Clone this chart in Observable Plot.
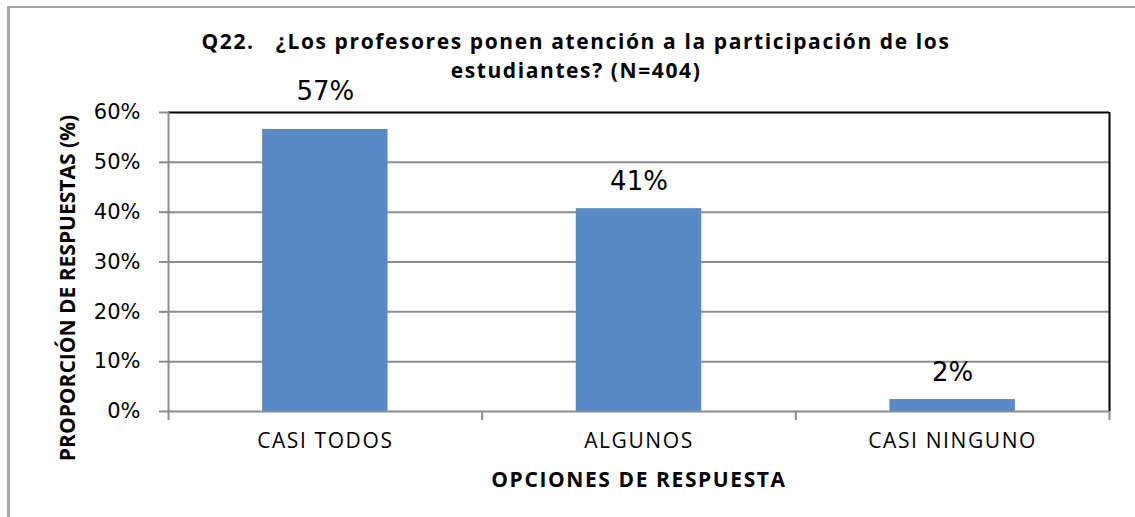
<!DOCTYPE html>
<html>
<head>
<meta charset="utf-8">
<script src="https://cdn.jsdelivr.net/npm/d3@7"></script>
<script src="https://cdn.jsdelivr.net/npm/@observablehq/plot@0.6"></script>
<style>
  html, body { margin: 0; padding: 0; background: #fff; }
  #wrap { position: relative; width: 1135px; height: 517px; overflow: hidden; }
  #border { position: absolute; left: 7px; top: 6px; right: -10px; bottom: -10px;
            border-left: 3px solid #a6a6a6; border-top: 2px solid #a6a6a6; pointer-events: none; }
  #chart { position: absolute; left: 0; top: 0; }
  #chart g[font-family*="Noto Sans"] { letter-spacing: 1.6px; }
</style>
</head>
<body>
<div id="wrap"><div id="chart"></div><div id="border"></div></div>
<script>
const categories = ["CASI TODOS", "ALGUNOS", "CASI NINGUNO"];
const values = [0.566, 0.407, 0.024];
const valueLabels = ["57%", "41%", "2%"];
const yTicks = [0, 0.1, 0.2, 0.3, 0.4, 0.5, 0.6];
const titleLines = ["Q22.\u00a0\u00a0\u00a0¿Los profesores ponen atención a la participación de los", "estudiantes? (N=404)"];
const xLabel = "OPCIONES DE RESPUESTA";
const yLabel = "PROPORCIÓN DE RESPUESTAS (%)";

const data = categories.map((c, i) => ({i, category: c, value: values[i], label: valueLabels[i]}));
const boundaries = d3.range(categories.length + 1);

const grid = "#8c8c8c";
const sans = "'Open Sans', 'Noto Sans', sans-serif";
const sansV = "'Open Sans', sans-serif";

const chart = Plot.plot({
  width: 1135,
  height: 517,
  marginLeft: 168,
  marginRight: 26,
  marginTop: 112,
  marginBottom: 106,
  style: {fontFamily: "'DejaVu Sans', Verdana, sans-serif", fontSize: "21px", color: "black", background: "transparent"},
  x: {domain: [0, categories.length], axis: null},
  y: {domain: [0, 0.6], axis: null},
  marks: [
    Plot.ruleY(yTicks.filter(t => t > 0 && t < 0.6), {stroke: grid, strokeWidth: 2}),
    Plot.rectY(data, {x1: d => d.i + 0.3, x2: d => d.i + 0.7, y1: 0, y2: "value", fill: "#5a8ac6"}),
    Plot.ruleY([0.6], {stroke: "black", strokeWidth: 2}),
    Plot.ruleX([categories.length], {stroke: "black", strokeWidth: 2}),
    Plot.ruleX([0], {stroke: grid, strokeWidth: 2}),
    Plot.ruleY([0], {stroke: grid, strokeWidth: 2}),
    Plot.axisY({ticks: yTicks, tickFormat: d3.format(".0%"), tickSize: 9, tickPadding: 19, label: null,
                stroke: grid, strokeWidth: 2, fontSize: 21, fill: "black"}),
    Plot.axisX({ticks: boundaries, tickFormat: () => "", tickSize: 9, label: null, stroke: grid, strokeWidth: 2}),
    Plot.text(data.filter(d => d.i === 0), {x: d => d.i + 0.5, y: "value", text: "label", dy: -38,
                fontSize: 26, fill: "black"}),
    Plot.text(data.filter(d => d.i > 0), {x: d => d.i + 0.5, y: "value", text: "label", dy: -27,
                fontSize: 26, fill: "black"}),
    Plot.text(data, {x: d => d.i + 0.5, text: "category", frameAnchor: "bottom", lineAnchor: "middle", dy: 30,
                fontSize: 21, fontFamily: sans, fill: "black"}),
    Plot.text([xLabel], {text: d => d, frameAnchor: "bottom", lineAnchor: "middle", dy: 69,
                fontSize: 21, fontWeight: "bold", fontFamily: sans, fill: "black"}),
    Plot.text([yLabel], {text: d => d, frameAnchor: "left", textAnchor: "middle", lineAnchor: "middle",
                rotate: -90, dx: -100, dy: 26,
                fontSize: 21, fontWeight: "bold", fontFamily: sansV, fill: "black"}),
    Plot.text([titleLines.join("\n")], {text: d => d, frameAnchor: "top", lineAnchor: "middle", dx: -63, dy: -58,
                lineHeight: 1.35, fontSize: 21, fontWeight: "bold", fontFamily: sans, fill: "black"})
  ]
});
document.getElementById("chart").appendChild(chart);
</script>
</body>
</html>
